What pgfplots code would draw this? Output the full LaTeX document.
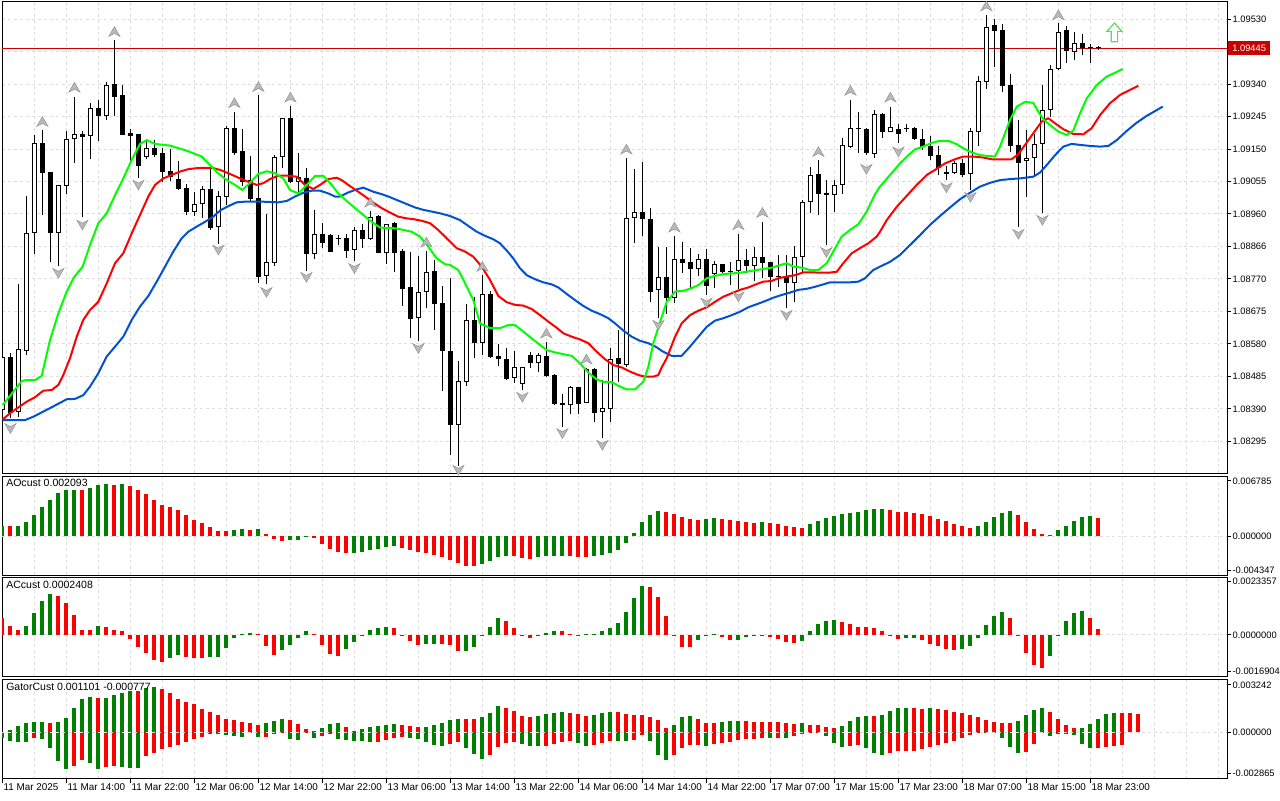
\documentclass[border=0pt]{standalone}
\usepackage{fontspec}
\setmainfont{Liberation Sans}
\usepackage{pgfplots}
\usepackage{pgfplotstable}
\pgfplotsset{compat=1.18}
\definecolor{mtgreen}{RGB}{0,128,0}
\definecolor{mtred}{RGB}{255,0,0}
\definecolor{jaw}{RGB}{0,82,210}
\definecolor{teeth}{RGB}{255,0,0}
\definecolor{lips}{RGB}{0,255,0}
\definecolor{gridc}{RGB}{222,222,222}
\definecolor{priceline}{RGB}{204,0,0}
\definecolor{pricelab}{RGB}{200,0,0}
\definecolor{fracfill}{RGB}{185,185,185}
\definecolor{fracedge}{RGB}{150,150,150}
\definecolor{sigc}{RGB}{90,220,90}
\newcommand\lbl{\fontsize{7.9}{9.5}\selectfont}
\newcommand\dlbl{\fontsize{7.4}{9}\selectfont}
\newcommand\ylbl{\fontsize{7}{8.5}\selectfont}
\pgfdeclareplotmark{fracup}{%
 \pgfpathmoveto{\pgfqpoint{0pt}{3.8pt}}%
 \pgfpathlineto{\pgfqpoint{-4.2pt}{-3.5pt}}%
 \pgfpathlineto{\pgfqpoint{0pt}{-1.3pt}}%
 \pgfpathlineto{\pgfqpoint{4.2pt}{-3.5pt}}%
 \pgfpathclose\pgfusepathqfillstroke}
\pgfdeclareplotmark{fracdown}{%
 \pgfpathmoveto{\pgfqpoint{0pt}{-3.8pt}}%
 \pgfpathlineto{\pgfqpoint{-4.2pt}{3.5pt}}%
 \pgfpathlineto{\pgfqpoint{0pt}{1.3pt}}%
 \pgfpathlineto{\pgfqpoint{4.2pt}{3.5pt}}%
 \pgfpathclose\pgfusepathqfillstroke}
\pgfdeclareplotmark{sigup}{%
 \pgfpathmoveto{\pgfqpoint{0pt}{7pt}}%
 \pgfpathlineto{\pgfqpoint{-5.6pt}{0.8pt}}%
 \pgfpathlineto{\pgfqpoint{-2.4pt}{0.8pt}}%
 \pgfpathlineto{\pgfqpoint{-2.4pt}{-7pt}}%
 \pgfpathlineto{\pgfqpoint{2.4pt}{-7pt}}%
 \pgfpathlineto{\pgfqpoint{2.4pt}{0.8pt}}%
 \pgfpathlineto{\pgfqpoint{5.6pt}{0.8pt}}%
 \pgfpathclose\pgfusepathqfillstroke}
\pgfplotsset{
 panel/.style={
  scale only axis, width=918.75pt, xmin=-0.05, xmax=153.075, anchor=south west,
  axis line style={black, line width=0.75pt},
  tick align=outside, major tick length=3pt,
  scaled x ticks=false, scaled y ticks=false,
  ytick pos=right, yticklabel pos=right,
  ytick style={draw=black, line width=0.75pt},
  yticklabel style={font=\ylbl, inner xsep=1pt},
  xtick={0,4,...,152}, xticklabels={},
  xmajorgrids=true, ymajorgrids=false,
  major grid style={gridc, line width=0.75pt, dash pattern=on 2.25pt off 2.25pt},
  minor grid style={gridc, line width=0.75pt, dash pattern=on 2.25pt off 2.25pt},
  clip mode=individual,
 },
 hbar/.style={ycomb, line width=3pt, mark=none, forget plot},
 ebar/.style={draw=none, mark=none, forget plot},
}
\pgfplotstableread{
i o h l c
0 1.08387 1.08547 1.08372 1.08542
1 1.08541 1.08552 1.08362 1.08379
2 1.08382 1.08755 1.08367 1.08564
3 1.08560 1.09013 1.08547 1.08903
4 1.08903 1.09191 1.08843 1.09167
5 1.09167 1.09206 1.08957 1.09081
6 1.09082 1.09083 1.08820 1.08903
7 1.08903 1.09045 1.08809 1.09044
8 1.09042 1.09203 1.09018 1.09178
9 1.09178 1.09303 1.09110 1.09193
10 1.09193 1.09203 1.08950 1.09186
11 1.09189 1.09285 1.09120 1.09269
12 1.09269 1.09293 1.09174 1.09247
13 1.09247 1.09347 1.09235 1.09336
14 1.09339 1.09469 1.09247 1.09303
15 1.09307 1.09336 1.09190 1.09192
16 1.09197 1.09209 1.09108 1.09189
17 1.09193 1.09193 1.09066 1.09101
18 1.09128 1.09176 1.09120 1.09152
19 1.09152 1.09176 1.09128 1.09132
20 1.09137 1.09152 1.09054 1.09084
21 1.09085 1.09150 1.09057 1.09069
22 1.09061 1.09114 1.09030 1.09033
23 1.09035 1.09047 1.08957 1.08967
24 1.08967 1.09023 1.08954 1.08988
25 1.08988 1.09042 1.08948 1.09032
26 1.09032 1.09098 1.08913 1.08919
27 1.08921 1.09027 1.08872 1.09012
28 1.09011 1.09217 1.08986 1.09212
29 1.09212 1.09258 1.09132 1.09137
30 1.09144 1.09209 1.09043 1.09054
31 1.09059 1.09130 1.08998 1.09004
32 1.09006 1.09308 1.08759 1.08777
33 1.08779 1.08961 1.08754 1.08819
34 1.08817 1.09132 1.08809 1.09126
35 1.09126 1.09241 1.09094 1.09240
36 1.09241 1.09276 1.09052 1.09054
37 1.09053 1.09138 1.09023 1.09067
38 1.09064 1.09094 1.08794 1.08842
39 1.08842 1.08972 1.08827 1.08901
40 1.08901 1.08933 1.08860 1.08874
41 1.08898 1.08900 1.08848 1.08850
42 1.08888 1.08898 1.08869 1.08887
43 1.08890 1.08901 1.08832 1.08853
44 1.08854 1.08921 1.08822 1.08913
45 1.08913 1.08931 1.08861 1.08888
46 1.08888 1.08969 1.08885 1.08951
47 1.08954 1.08956 1.08845 1.08847
48 1.08845 1.08932 1.08814 1.08930
49 1.08934 1.08936 1.08789 1.08847
50 1.08853 1.08857 1.08692 1.08740
51 1.08747 1.08849 1.08596 1.08652
52 1.08655 1.08838 1.08589 1.08731
53 1.08731 1.08853 1.08686 1.08789
54 1.08793 1.08824 1.08621 1.08698
55 1.08700 1.08750 1.08443 1.08560
56 1.08560 1.08772 1.08255 1.08343
57 1.08343 1.08530 1.08223 1.08471
58 1.08469 1.08697 1.08457 1.08650
59 1.08650 1.08716 1.08540 1.08582
60 1.08582 1.08781 1.08547 1.08725
61 1.08725 1.08735 1.08540 1.08543
62 1.08545 1.08580 1.08515 1.08535
63 1.08536 1.08567 1.08474 1.08477
64 1.08481 1.08559 1.08465 1.08511
65 1.08462 1.08513 1.08445 1.08511
66 1.08547 1.08557 1.08510 1.08523
67 1.08523 1.08552 1.08499 1.08547
68 1.08545 1.08585 1.08484 1.08487
69 1.08489 1.08492 1.08401 1.08404
70 1.08406 1.08432 1.08338 1.08400
71 1.08400 1.08457 1.08374 1.08453
72 1.08453 1.08455 1.08374 1.08405
73 1.08408 1.08510 1.08406 1.08507
74 1.08507 1.08508 1.08351 1.08379
75 1.08380 1.08474 1.08304 1.08392
76 1.08389 1.08567 1.08352 1.08535
77 1.08538 1.08621 1.08468 1.08520
78 1.08518 1.09123 1.08513 1.08947
79 1.08947 1.09092 1.08874 1.08966
80 1.08966 1.09111 1.08896 1.08944
81 1.08944 1.08977 1.08702 1.08733
82 1.08738 1.08863 1.08657 1.08777
83 1.08777 1.08864 1.08667 1.08713
84 1.08713 1.08896 1.08700 1.08828
85 1.08828 1.08877 1.08788 1.08817
86 1.08819 1.08860 1.08743 1.08798
87 1.08798 1.08842 1.08779 1.08828
88 1.08828 1.08857 1.08723 1.08750
89 1.08784 1.08822 1.08744 1.08813
90 1.08813 1.08815 1.08788 1.08791
91 1.08792 1.08820 1.08752 1.08791
92 1.08794 1.08901 1.08741 1.08825
93 1.08824 1.08858 1.08788 1.08809
94 1.08809 1.08863 1.08764 1.08833
95 1.08833 1.08937 1.08774 1.08817
96 1.08819 1.08820 1.08736 1.08775
97 1.08779 1.08840 1.08746 1.08776
98 1.08777 1.08840 1.08684 1.08759
99 1.08759 1.08866 1.08702 1.08833
100 1.08833 1.09001 1.08786 1.08994
101 1.08994 1.09098 1.08962 1.09074
102 1.09077 1.09118 1.08957 1.09018
103 1.09020 1.09059 1.08869 1.09015
104 1.09015 1.09059 1.08967 1.09045
105 1.09045 1.09181 1.09018 1.09161
106 1.09155 1.09293 1.09153 1.09211
107 1.09211 1.09257 1.09139 1.09208
108 1.09209 1.09211 1.09132 1.09137
109 1.09135 1.09264 1.09123 1.09252
110 1.09252 1.09254 1.09181 1.09201
111 1.09201 1.09274 1.09199 1.09214
112 1.09208 1.09222 1.09167 1.09194
113 1.09211 1.09222 1.09201 1.09208
114 1.09212 1.09215 1.09176 1.09178
115 1.09179 1.09208 1.09147 1.09157
116 1.09160 1.09188 1.09118 1.09130
117 1.09132 1.09160 1.09074 1.09094
118 1.09083 1.09101 1.09059 1.09077
119 1.09079 1.09115 1.09076 1.09108
120 1.09108 1.09120 1.09069 1.09074
121 1.09076 1.09211 1.09030 1.09204
122 1.09201 1.09364 1.09159 1.09349
123 1.09347 1.09542 1.09325 1.09508
124 1.09513 1.09530 1.09391 1.09496
125 1.09498 1.09515 1.09316 1.09335
126 1.09337 1.09369 1.09140 1.09160
127 1.09162 1.09235 1.08923 1.09110
128 1.09115 1.09206 1.09011 1.09123
129 1.09123 1.09193 1.09071 1.09165
130 1.09164 1.09337 1.08962 1.09264
131 1.09264 1.09395 1.09245 1.09383
132 1.09383 1.09518 1.09381 1.09493
133 1.09498 1.09510 1.09402 1.09438
134 1.09433 1.09491 1.09410 1.09459
135 1.09459 1.09486 1.09425 1.09445
136 1.09444 1.09456 1.09402 1.09443
137 1.09447 1.09451 1.09440 1.09445
}\candles
\pgfplotstableread{
i v c
0 0.001124 1
1 0.001124 0
2 0.001124 1
3 0.001574 1
4 0.002360 1
5 0.003260 1
6 0.004103 1
7 0.004833 1
8 0.005170 1
9 0.005204 1
10 0.005170 0
11 0.005395 1
12 0.005732 1
13 0.005845 1
14 0.005732 0
15 0.005879 1
16 0.005620 0
17 0.005170 0
18 0.004721 0
19 0.004046 0
20 0.003484 0
21 0.003260 0
22 0.002922 0
23 0.002360 0
24 0.001798 0
25 0.001461 0
26 0.001012 0
27 0.000618 0
28 0.000562 0
29 0.000674 1
30 0.000787 1
31 0.000764 0
32 0.000809 1
33 0.000225 0
34 -0.000281 0
35 -0.000528 0
36 -0.000416 1
37 -0.000371 1
38 -0.000090 1
39 -0.000169 0
40 -0.000865 0
41 -0.001439 0
42 -0.001798 0
43 -0.001911 0
44 -0.001855 1
45 -0.001720 1
46 -0.001517 1
47 -0.001405 1
48 -0.001214 1
49 -0.001102 1
50 -0.001315 0
51 -0.001540 0
52 -0.001765 0
53 -0.001877 0
54 -0.002102 0
55 -0.002327 0
56 -0.002664 0
57 -0.003001 0
58 -0.003338 0
59 -0.003372 0
60 -0.003113 1
61 -0.002776 1
62 -0.002327 1
63 -0.002214 1
64 -0.002248 0
65 -0.002439 0
66 -0.002551 0
67 -0.002327 1
68 -0.002237 1
69 -0.002192 1
70 -0.002169 1
71 -0.002214 0
72 -0.002327 0
73 -0.002349 0
74 -0.002214 1
75 -0.002102 1
76 -0.001877 1
77 -0.001540 1
78 -0.000753 1
79 0.000337 1
80 0.001574 1
81 0.002360 1
82 0.002810 1
83 0.002698 0
84 0.002473 0
85 0.002136 0
86 0.001911 0
87 0.001798 0
88 0.001911 1
89 0.002023 1
90 0.001911 0
91 0.001798 0
92 0.001686 0
93 0.001574 0
94 0.001551 0
95 0.001596 1
96 0.001461 0
97 0.001349 0
98 0.001124 0
99 0.001012 0
100 0.000989 0
101 0.001349 1
102 0.001686 1
103 0.002023 1
104 0.002248 1
105 0.002473 1
106 0.002585 1
107 0.002698 1
108 0.002922 1
109 0.003035 1
110 0.003057 1
111 0.002922 0
112 0.002720 0
113 0.002698 0
114 0.002675 0
115 0.002473 0
116 0.002248 0
117 0.001911 0
118 0.001686 0
119 0.001349 0
120 0.001124 0
121 0.000899 0
122 0.001124 1
123 0.001574 1
124 0.002136 1
125 0.002585 1
126 0.002810 1
127 0.002360 0
128 0.001574 0
129 0.000787 0
130 0.000225 0
131 0.000112 0
132 0.000674 1
133 0.001124 1
134 0.001686 1
135 0.002136 1
136 0.002248 1
137 0.002093 0
}\aodata
\pgfplotstableread{
i v c
0 0.000697 0
1 0.000369 0
2 0.000205 0
3 0.000369 1
4 0.000902 1
5 0.001393 1
6 0.001680 1
7 0.001598 0
8 0.001311 0
9 0.000820 0
10 0.000205 0
11 0.000197 0
12 0.000369 1
13 0.000328 0
14 0.000205 0
15 0.000164 0
16 -0.000164 0
17 -0.000492 0
18 -0.000717 0
19 -0.001025 0
20 -0.001106 0
21 -0.000943 1
22 -0.000820 1
23 -0.000902 0
24 -0.000943 0
25 -0.000951 0
26 -0.000902 1
27 -0.000881 1
28 -0.000512 1
29 -0.000123 1
30 0.000041 1
31 0.000070 1
32 0.000041 0
33 -0.000451 0
34 -0.000820 0
35 -0.000615 1
36 -0.000410 1
37 -0.000123 1
38 0.000164 1
39 0.000041 0
40 -0.000410 0
41 -0.000779 0
42 -0.000861 0
43 -0.000574 1
44 -0.000287 1
45 -0.000029 1
46 0.000205 1
47 0.000287 1
48 0.000328 1
49 0.000287 0
50 -0.000020 0
51 -0.000246 0
52 -0.000410 0
53 -0.000369 1
54 -0.000361 1
55 -0.000369 0
56 -0.000410 0
57 -0.000656 0
58 -0.000647 1
59 -0.000492 1
60 -0.000041 1
61 0.000328 1
62 0.000697 1
63 0.000574 0
64 0.000287 0
65 -0.000029 0
66 -0.000135 0
67 -0.000041 1
68 0.000082 1
69 0.000164 1
70 0.000156 0
71 0.000041 0
72 0.000016 0
73 0.000020 1
74 0.000041 1
75 0.000164 1
76 0.000287 1
77 0.000492 1
78 0.000943 1
79 0.001516 1
80 0.002008 1
81 0.001967 0
82 0.001557 0
83 0.000779 0
84 -0.000020 0
85 -0.000492 0
86 -0.000500 0
87 -0.000205 1
88 0.000016 1
89 0.000020 1
90 -0.000070 0
91 -0.000205 0
92 -0.000197 1
93 -0.000094 1
94 0.000016 1
95 0.000012 0
96 -0.000070 0
97 -0.000164 0
98 -0.000275 0
99 -0.000328 0
100 -0.000234 1
101 0.000164 1
102 0.000451 1
103 0.000574 1
104 0.000615 1
105 0.000533 0
106 0.000451 0
107 0.000328 0
108 0.000320 0
109 0.000287 0
110 0.000164 0
111 -0.000029 0
112 -0.000164 0
113 -0.000111 1
114 -0.000107 1
115 -0.000193 0
116 -0.000369 0
117 -0.000451 0
118 -0.000574 0
119 -0.000615 0
120 -0.000574 1
121 -0.000451 1
122 -0.000111 1
123 0.000410 1
124 0.000779 1
125 0.000943 1
126 0.000697 0
127 -0.000029 0
128 -0.000738 0
129 -0.001229 0
130 -0.001352 0
131 -0.000861 1
132 -0.000029 1
133 0.000574 1
134 0.000902 1
135 0.000984 1
136 0.000697 0
137 0.000241 0
}\acdata
\pgfplotstableread{
i u cu d cd
0 0.000031 1 -0.000389 1
1 0.000154 1 -0.000555 1
2 0.000352 1 -0.000617 1
3 0.000537 1 -0.000629 1
4 0.000598 1 -0.000389 0
5 0.000648 1 -0.000450 1
6 0.000537 0 -0.001006 1
7 0.000598 1 -0.001789 1
8 0.000882 1 -0.002301 1
9 0.001512 1 -0.002116 0
10 0.002067 1 -0.001728 0
11 0.002147 1 -0.001913 1
12 0.002073 0 -0.002301 1
13 0.002129 1 -0.002129 0
14 0.002314 1 -0.002067 0
15 0.002406 1 -0.002160 1
16 0.002548 1 -0.002190 1
17 0.002511 0 -0.002240 1
18 0.002715 1 -0.001462 0
19 0.002758 1 -0.001265 0
20 0.002684 0 -0.001030 0
21 0.002425 0 -0.000895 0
22 0.002055 0 -0.000771 0
23 0.001870 0 -0.000598 0
24 0.001746 0 -0.000450 0
25 0.001450 0 -0.000327 0
26 0.001253 0 -0.000093 0
27 0.001067 0 -0.000123 1
28 0.000821 0 -0.000204 1
29 0.000759 0 -0.000247 1
30 0.000636 0 -0.000309 1
31 0.000574 0 -0.000031 0
32 0.000450 0 -0.000327 1
33 0.000574 1 -0.000278 0
34 0.000697 1 -0.000123 0
35 0.000821 1 -0.000062 0
36 0.000759 0 -0.000401 1
37 0.000512 0 -0.000463 1
38 0.000204 0 -0.000031 0
39 0.000080 0 -0.000370 1
40 0.000265 1 -0.000247 0
41 0.000512 1 -0.000136 0
42 0.000574 1 -0.000432 1
43 0.000327 0 -0.000494 1
44 0.000062 0 -0.000543 1
45 0.000204 1 -0.000574 1
46 0.000309 1 -0.000617 1
47 0.000395 1 -0.000598 0
48 0.000438 1 -0.000494 0
49 0.000469 1 -0.000389 0
50 0.000444 0 -0.000333 0
51 0.000383 0 -0.000352 1
52 0.000321 0 -0.000450 1
53 0.000339 1 -0.000617 1
54 0.000450 1 -0.000790 1
55 0.000574 1 -0.000845 1
56 0.000716 1 -0.000716 0
57 0.000833 1 -0.000642 0
58 0.000802 0 -0.000963 1
59 0.000790 0 -0.001345 1
60 0.000950 1 -0.001654 1
61 0.001197 1 -0.001431 0
62 0.001580 1 -0.000938 0
63 0.001505 0 -0.000673 0
64 0.001271 0 -0.000586 0
65 0.000969 0 -0.000740 1
66 0.000907 0 -0.000845 1
67 0.000963 1 -0.000876 1
68 0.001111 1 -0.000839 0
69 0.001203 1 -0.000728 0
70 0.001253 1 -0.000586 0
71 0.001191 0 -0.000555 0
72 0.001129 0 -0.000673 1
73 0.001006 0 -0.000833 1
74 0.001067 1 -0.000802 0
75 0.001191 1 -0.000648 0
76 0.001253 1 -0.000537 0
77 0.001234 0 -0.000555 1
78 0.001129 0 -0.000568 1
79 0.001067 0 -0.000463 0
80 0.001049 0 -0.000154 0
81 0.000956 0 -0.000574 1
82 0.000771 0 -0.001388 1
83 0.000247 0 -0.001697 1
84 0.000463 1 -0.001419 0
85 0.000944 1 -0.000956 0
86 0.001006 1 -0.000784 0
87 0.000821 0 -0.000771 0
88 0.000586 0 -0.000845 1
89 0.000568 0 -0.000740 0
90 0.000636 1 -0.000666 0
91 0.000679 1 -0.000586 0
92 0.000691 1 -0.000506 0
93 0.000666 0 -0.000450 0
94 0.000642 0 -0.000407 0
95 0.000623 0 -0.000358 0
96 0.000605 0 -0.000383 1
97 0.000592 0 -0.000339 0
98 0.000574 0 -0.000352 1
99 0.000512 0 -0.000228 0
100 0.000574 1 -0.000105 0
101 0.000450 0 -0.000043 0
102 0.000444 0 -0.000031 0
103 0.000327 0 -0.000228 1
104 0.000265 0 -0.000660 1
105 0.000389 1 -0.000907 1
106 0.000697 1 -0.000845 0
107 0.000944 1 -0.000784 0
108 0.001006 1 -0.000969 1
109 0.001000 0 -0.001277 1
110 0.001067 1 -0.001401 1
111 0.001314 1 -0.001277 0
112 0.001499 1 -0.001160 0
113 0.001512 1 -0.001148 0
114 0.001499 0 -0.001141 0
115 0.001438 0 -0.001030 0
116 0.001499 1 -0.000907 0
117 0.001438 0 -0.000784 0
118 0.001376 0 -0.000660 0
119 0.001253 0 -0.000537 0
120 0.001191 0 -0.000352 0
121 0.001067 0 -0.000167 0
122 0.000944 0 -0.000043 0
123 0.000759 0 -0.000019 1
124 0.000636 0 -0.000043 1
125 0.000574 0 -0.000352 1
126 0.000568 0 -0.000907 1
127 0.000697 1 -0.001277 1
128 0.001067 1 -0.001215 0
129 0.001376 1 -0.000722 0
130 0.001499 1 -0.000043 0
131 0.001253 0 -0.000228 1
132 0.000821 0 -0.000105 0
133 0.000450 0 -0.000093 0
134 0.000265 0 -0.000167 1
135 0.000278 1 -0.000722 1
136 0.000512 1 -0.000981 1
137 0.000821 1 -0.000969 0
138 0.001129 1 -0.000907 0
139 0.001191 1 -0.000845 0
140 0.001185 0 -0.000777 0
141 0.001178 0 0 5
142 0.001129 0 0 5
}\gatordata
\begin{document}
\begin{tikzpicture}
\path[use as bounding box, fill=white] (0,0) rectangle (960pt,600pt);
% ================= MAIN PRICE PANEL =================
\begin{axis}[panel, at={(1.5pt,245.25pt)}, height=353.25pt,
  ymin=1.082023, ymax=1.0958, ymajorgrids=true, xtick style={draw=none},
  ytick={1.09530,1.09435,1.09340,1.09245,1.09150,1.09055,1.08960,1.08865,1.08770,1.08675,1.08580,1.08485,1.08390,1.08295},
  yticklabels={1.09530,,1.09340,1.09245,1.09150,1.09055,1.08960,1.08866,1.08770,1.08675,1.08580,1.08485,1.08390,1.08295}]
\addplot[priceline, line width=0.75pt, forget plot] coordinates {(-0.05,1.09445) (153.075,1.09445)};
% wicks
\addplot[ebar, error bars/.cd, y dir=plus, y explicit, error mark=none,
  error bar style={draw=black, line width=0.75pt}]
  table[x=i, y=l, y error plus expr=\thisrow{h}-\thisrow{l}] {\candles};
% bodies
\addplot[ebar, error bars/.cd, y dir=plus, y explicit, error mark=none,
  error bar style={draw=black, line width=3.75pt}]
  table[x=i, y expr={min(\thisrow{o},\thisrow{c})}, y error plus expr={max(abs(\thisrow{c}-\thisrow{o}),0.00003)}] {\candles};
% hollow interiors of rising candles
\addplot[ebar, restrict expr to domain={\thisrow{c}-\thisrow{o}}{0.00007:1},
  error bars/.cd, y dir=plus, y explicit, error mark=none,
  error bar style={draw=white, line width=2.25pt}]
  table[x=i, y expr={\thisrow{o}+0.000029}, y error plus expr={\thisrow{c}-\thisrow{o}-0.000058}] {\candles};
% Alligator: jaw
\addplot[jaw, line width=1.5pt, line join=round, mark=none] coordinates {
(0.04,1.08357) (2.83,1.08357) (3.86,1.08367) (5.95,1.08392) (8.04,1.08418) (9.08,1.08419) (10.11,1.08430) (10.95,1.08455) (11.99,1.08494) (13.04,1.08543) (14.08,1.08572) (15.11,1.08601) (16.16,1.08650) (17.2,1.08689) (18.24,1.08720) (19.29,1.08762) (20.33,1.08806) (21.36,1.08850) (22.41,1.08889) (23.24,1.08908) (24.29,1.08923) (25.33,1.08937) (26.36,1.08952) (27.2,1.08970) (28.24,1.08983) (29.29,1.08994) (30.33,1.08996) (32.41,1.08996) (34.49,1.08994) (35.54,1.08998) (36.58,1.09011) (37.61,1.09022) (38.66,1.09028) (39.7,1.09028) (40.74,1.09020) (41.58,1.09011) (42.2,1.09011) (43.24,1.09023) (44.29,1.09032) (45.11,1.09037) (46.36,1.09025) (47.41,1.09018) (48.45,1.09009) (49.49,1.08999) (50.54,1.08989) (51.58,1.08979) (52.61,1.08972) (53.66,1.08967) (54.7,1.08962) (55.95,1.08954) (57.2,1.08942) (58.24,1.08925) (59.29,1.08908) (60.33,1.08896) (61.36,1.08886) (62.2,1.08874) (63.04,1.08853) (63.86,1.08830) (64.7,1.08801) (65.54,1.08781) (66.58,1.08769) (67.61,1.08760) (68.66,1.08754) (69.49,1.08745) (70.54,1.08726) (71.58,1.08708) (72.61,1.08691) (73.66,1.08677) (74.7,1.08667) (75.74,1.08655) (76.58,1.08640) (77.61,1.08619) (78.66,1.08601) (79.7,1.08589) (80.74,1.08582) (81.79,1.08570) (82.45,1.08559) (83.66,1.08545) (84.91,1.08545) (85.95,1.08572) (86.99,1.08601) (88.04,1.08630) (89.08,1.08648) (90.11,1.08655) (91.16,1.08664) (92.2,1.08674) (93.24,1.08687) (94.29,1.08696) (95.33,1.08705) (96.36,1.08715) (97.41,1.08723) (98.45,1.08730) (99.49,1.08738) (100.54,1.08741) (101.58,1.08747) (102.61,1.08754) (103.45,1.08760) (105.95,1.08760) (106.99,1.08762) (107.83,1.08772) (108.86,1.08796) (109.7,1.08806) (110.95,1.08820) (112.2,1.08840) (113.45,1.08869) (114.7,1.08898) (115.95,1.08928) (117.2,1.08954) (118.45,1.08979) (119.7,1.09003) (120.95,1.09022) (122.2,1.09040) (123.45,1.09051) (124.7,1.09059) (125.95,1.09062) (127.2,1.09064) (128.86,1.09069) (129.7,1.09081) (130.54,1.09103) (131.58,1.09132) (132.61,1.09157) (133.66,1.09165) (134.7,1.09162) (135.95,1.09159) (137.2,1.09157) (138.24,1.09159) (139.29,1.09176) (140.54,1.09203) (141.79,1.09227) (143.04,1.09247) (144.08,1.09261) (145.04,1.09274)};
% Alligator: teeth
\addplot[teeth, line width=1.5pt, line join=round, mark=none] coordinates {
(0.04,1.08359) (0.95,1.08377) (1.99,1.08394) (3.04,1.08411) (4.08,1.08424) (5.11,1.08443) (6.16,1.08445) (6.99,1.08460) (7.61,1.08489) (8.45,1.08538) (9.29,1.08601) (10.11,1.08650) (10.95,1.08679) (11.99,1.08703) (13.04,1.08757) (14.08,1.08816) (15.11,1.08845) (16.16,1.08903) (17.2,1.08957) (18.24,1.09011) (19.08,1.09045) (20.11,1.09064) (21.16,1.09074) (22.2,1.09084) (23.24,1.09091) (24.29,1.09094) (25.33,1.09095) (26.36,1.09094) (27.2,1.09089) (28.45,1.09077) (29.7,1.09064) (30.74,1.09054) (31.79,1.09045) (32.61,1.09050) (33.45,1.09062) (34.49,1.09072) (35.74,1.09072) (36.79,1.09069) (37.83,1.09045) (38.86,1.09033) (39.7,1.09045) (40.74,1.09062) (41.79,1.09066) (42.41,1.09059) (43.24,1.09045) (44.29,1.09028) (45.33,1.09011) (46.36,1.08993) (47.41,1.08977) (48.45,1.08964) (49.49,1.08952) (50.54,1.08947) (51.36,1.08945) (52.41,1.08940) (53.45,1.08933) (54.49,1.08913) (55.74,1.08884) (56.79,1.08860) (57.83,1.08850) (58.86,1.08835) (59.91,1.08806) (60.95,1.08767) (61.99,1.08720) (63.04,1.08702) (64.08,1.08694) (65.11,1.08692) (66.16,1.08682) (67.2,1.08664) (68.24,1.08645) (69.29,1.08627) (70.11,1.08611) (71.16,1.08601) (72.2,1.08593) (73.24,1.08582) (74.29,1.08557) (75.33,1.08535) (76.36,1.08518) (77.41,1.08511) (78.45,1.08499) (79.49,1.08489) (80.33,1.08484) (81.36,1.08484) (81.99,1.08489) (82.41,1.08511) (83.04,1.08538) (84.08,1.08601) (84.91,1.08640) (85.95,1.08664) (86.99,1.08677) (88.04,1.08687) (89.08,1.08703) (90.11,1.08718) (91.16,1.08728) (92.2,1.08738) (93.24,1.08745) (94.29,1.08755) (95.11,1.08762) (96.16,1.08764) (96.99,1.08772) (98.04,1.08777) (99.08,1.08781) (100.11,1.08789) (101.16,1.08789) (103.24,1.08788) (104.29,1.08791) (105.11,1.08816) (106.16,1.08845) (107.2,1.08860) (108.24,1.08874) (109.29,1.08894) (109.7,1.08908) (110.54,1.08942) (111.79,1.08981) (113.04,1.09013) (114.29,1.09045) (115.54,1.09074) (116.58,1.09089) (117.83,1.09108) (119.08,1.09120) (120.11,1.09128) (121.36,1.09128) (122.61,1.09125) (123.66,1.09120) (126.16,1.09120) (126.99,1.09135) (127.83,1.09162) (128.86,1.09196) (129.91,1.09230) (130.74,1.09240) (131.58,1.09225) (132.61,1.09208) (133.86,1.09194) (135.11,1.09193) (136.16,1.09211) (137.2,1.09249) (138.45,1.09284) (139.7,1.09308) (140.95,1.09323) (141.99,1.09335)};
% Alligator: lips
\addplot[lips, line width=1.5pt, line join=round, mark=none] coordinates {
(0.04,1.08401) (2.41,1.08471) (2.95,1.08474) (4.08,1.08474) (4.91,1.08486) (5.95,1.08591) (6.99,1.08669) (8.04,1.08733) (8.95,1.08775) (10.04,1.08806) (10.95,1.08869) (11.99,1.08933) (13.04,1.08962) (14.08,1.09015) (15.11,1.09064) (16.16,1.09118) (17.2,1.09165) (18.04,1.09176) (19.08,1.09165) (20.95,1.09160) (23.04,1.09145) (24.91,1.09128) (25.95,1.09103) (26.99,1.09079) (28.04,1.09059) (29.08,1.09045) (29.99,1.09030) (30.95,1.09051) (31.99,1.09077) (33.04,1.09085) (34.08,1.09079) (35.11,1.09064) (35.95,1.09030) (36.99,1.09020) (38.04,1.09045) (39.08,1.09071) (40.11,1.09072) (40.95,1.09051) (41.99,1.09020) (43.04,1.08998) (44.08,1.08977) (45.11,1.08957) (46.16,1.08937) (47.2,1.08920) (49.16,1.08918) (51.16,1.08908) (52.2,1.08894) (53.24,1.08864) (54.29,1.08830) (55.33,1.08813) (55.95,1.08811) (56.99,1.08796) (57.95,1.08752) (58.86,1.08708) (59.7,1.08640) (60.95,1.08626) (62.2,1.08626) (63.24,1.08635) (64.08,1.08635) (65.11,1.08616) (66.16,1.08596) (67.2,1.08577) (68.04,1.08562) (69.08,1.08555) (71.16,1.08545) (72.2,1.08523) (73.24,1.08496) (74.29,1.08476) (75.11,1.08469) (76.16,1.08468) (77.2,1.08455) (78.04,1.08447) (79.08,1.08447) (80.11,1.08469) (80.74,1.08513) (81.36,1.08582) (82.2,1.08643) (83.04,1.08703) (84.08,1.08733) (85.11,1.08735) (86.16,1.08743) (86.99,1.08752) (88.04,1.08772) (89.08,1.08779) (90.11,1.08784) (92.2,1.08788) (94.29,1.08796) (96.16,1.08803) (98.04,1.08816) (98.86,1.08806) (99.91,1.08803) (100.95,1.08796) (101.99,1.08796) (103.04,1.08816) (103.86,1.08850) (104.91,1.08894) (105.95,1.08913) (106.99,1.08930) (108.04,1.08967) (109.08,1.09018) (109.7,1.09040) (110.95,1.09074) (112.2,1.09108) (113.24,1.09132) (114.08,1.09149) (115.11,1.09157) (116.16,1.09168) (117.2,1.09174) (118.24,1.09174) (119.29,1.09164) (120.11,1.09152) (121.16,1.09140) (122.2,1.09132) (124.08,1.09128) (124.7,1.09157) (125.33,1.09196) (125.95,1.09235) (126.79,1.09274) (127.83,1.09288) (128.86,1.09285) (129.49,1.09259) (130.11,1.09237) (130.95,1.09220) (131.99,1.09201) (133.04,1.09191) (133.86,1.09204) (134.7,1.09254) (135.54,1.09298) (136.79,1.09337) (138.04,1.09362) (139.08,1.09373) (140.04,1.09384)};
% Fractals
\addplot[only marks, mark=fracup, mark options={fill=fracfill, draw=fracedge, line width=0.4pt}] coordinates {
(5,1.09230) (9,1.09330) (14,1.09493) (29,1.09285) (32,1.09332) (36,1.09301) (46,1.08994) (53,1.08877) (60,1.08806) (68,1.08611) (73,1.08535) (78,1.09149) (84,1.08921) (92,1.08928) (95,1.08964) (102,1.09142) (106,1.09321) (111,1.09301) (123,1.09568) (132,1.09542)};
\addplot[only marks, mark=fracdown, mark options={fill=fracfill, draw=fracedge, line width=0.4pt}] coordinates {
(1,1.08333) (7,1.08787) (10,1.08928) (17,1.09045) (27,1.08855) (33,1.08731) (38,1.08775) (44,1.08801) (52,1.08567) (57,1.08211) (65,1.08424) (70,1.08318) (75,1.08284) (82,1.08635) (88,1.08700) (92,1.08718) (98,1.08664) (103,1.08848) (108,1.09091) (112,1.09142) (118,1.09037) (121,1.09009) (127,1.08901) (130,1.08942)};
% signal arrow
\addplot[only marks, mark=sigup, mark options={fill=white, draw=sigc, line width=0.9pt}] coordinates {(139,1.09491)};
\node[anchor=west, fill=pricelab, text=white, font=\ylbl, inner xsep=3pt, inner ysep=0pt, minimum height=10.5pt, xshift=0.75pt] at (axis cs:153.075,1.09445) {1.09445};
\end{axis}
% ================= AO =================
\begin{axis}[panel, at={(1.5pt,168.75pt)}, height=74.25pt, xtick style={draw=none},
  ymin=-0.004347, ymax=0.006785,
  ytick={0.006223,0,-0.003785}, yticklabels={0.006785,0.000000,-0.004347}]
\addplot[gridc, line width=0.75pt, dash pattern=on 2.25pt off 2.25pt, forget plot] coordinates {(-0.05,0) (153.075,0)};
\addplot[hbar, mtgreen, restrict expr to domain={\thisrow{c}}{0.5:1.5}] table[x=i, y=v] {\aodata};
\addplot[hbar, mtred, restrict expr to domain={\thisrow{c}}{-0.5:0.5}] table[x=i, y=v] {\aodata};
\node[anchor=north west, font=\lbl, inner sep=0pt, xshift=3pt, yshift=-2.2pt] at (rel axis cs:0,1) {AOcust 0.002093};
\end{axis}
% ================= AC =================
\begin{axis}[panel, at={(1.5pt,92.625pt)}, height=74.25pt, xtick style={draw=none},
  ymin=-0.0016904, ymax=0.0023357,
  ytick={0.002172,0,-0.001486}, yticklabels={0.0023357,0.0000000,-0.0016904}]
\addplot[gridc, line width=0.75pt, dash pattern=on 2.25pt off 2.25pt, forget plot] coordinates {(-0.05,0) (153.075,0)};
\addplot[hbar, mtgreen, restrict expr to domain={\thisrow{c}}{0.5:1.5}] table[x=i, y=v] {\acdata};
\addplot[hbar, mtred, restrict expr to domain={\thisrow{c}}{-0.5:0.5}] table[x=i, y=v] {\acdata};
\node[anchor=north west, font=\lbl, inner sep=0pt, xshift=3pt, yshift=-2.2pt] at (rel axis cs:0,1) {ACcust 0.0002408};
\end{axis}
% ================= GATOR =================
\begin{axis}[panel, at={(1.5pt,16.125pt)}, height=74.25pt,
  ymin=-0.002865, ymax=0.003242,
  ytick={0.002903,0,-0.002526}, yticklabels={0.003242,0.000000,-0.002865},
  xtick={0,8,...,136},
  xticklabels={11 Mar 2025,11 Mar 14:00,11 Mar 22:00,12 Mar 06:00,12 Mar 14:00,12 Mar 22:00,13 Mar 06:00,13 Mar 14:00,13 Mar 22:00,14 Mar 06:00,14 Mar 14:00,14 Mar 22:00,17 Mar 07:00,17 Mar 15:00,17 Mar 23:00,18 Mar 07:00,18 Mar 15:00,18 Mar 23:00},
  minor xtick={4,12,20,28,36,44,52,60,68,76,84,92,100,108,116,124,132,140,144,148,152},
  xminorgrids=true, minor tick length=0pt,
  xtick pos=bottom, xtick style={draw=black, line width=0.75pt},
  xticklabel style={font=\dlbl, anchor=north west, inner sep=0pt, xshift=0.75pt, yshift=-1pt}]
\addplot[hbar, mtgreen, restrict expr to domain={\thisrow{cu}}{0.5:1.5}] table[x=i, y=u] {\gatordata};
\addplot[hbar, mtred, restrict expr to domain={\thisrow{cu}}{-0.5:0.5}] table[x=i, y=u] {\gatordata};
\addplot[hbar, mtgreen, restrict expr to domain={\thisrow{cd}}{0.5:1.5}] table[x=i, y=d] {\gatordata};
\addplot[hbar, mtred, restrict expr to domain={\thisrow{cd}}{-0.5:0.5}] table[x=i, y=d] {\gatordata};
\addplot[gridc, line width=0.75pt, dash pattern=on 2.25pt off 2.25pt, forget plot] coordinates {(-0.05,0) (153.075,0)};
\node[anchor=north west, font=\lbl, inner sep=0pt, xshift=3pt, yshift=-2.2pt] at (rel axis cs:0,1) {GatorCust 0.001101 -0.000777};
\end{axis}
\end{tikzpicture}
\end{document}
